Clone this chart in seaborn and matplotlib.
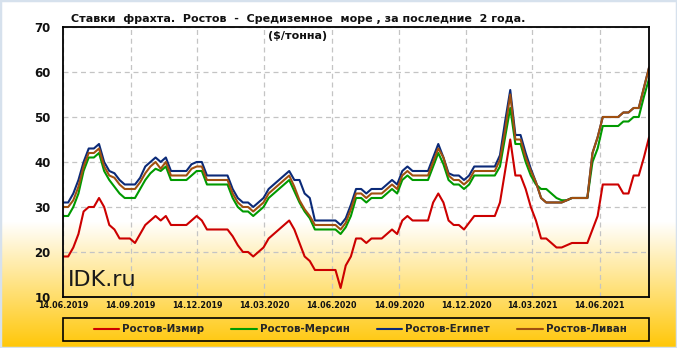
import matplotlib
matplotlib.use('Agg')
import matplotlib.pyplot as plt
import matplotlib.dates as mdates
from matplotlib.patches import Rectangle
import numpy as np
import pandas as pd
import seaborn as sns

# weekly points, 14.06.2019 .. 27.08.2021
dates = pd.date_range('2019-06-14', periods=115, freq='7D')

izmir = [19, 19, 21, 24, 29, 30, 30, 32, 30, 26,
         25, 23, 23, 23, 22, 24, 26, 27, 28, 27,
         28, 26, 26, 26, 26, 27, 28, 27, 25, 25,
         25, 25, 25, 23.5, 21.5, 20, 20, 19, 20, 21,
         23, 24, 25, 26, 27, 25, 22, 19, 18, 16,
         16, 16, 16, 16, 12, 17, 19, 23, 23, 22,
         23, 23, 23, 24, 25, 24, 27, 28, 27, 27,
         27, 27, 31, 33, 31, 27, 26, 26, 25, 26.5,
         28, 28, 28, 28, 28, 31, 38, 45, 37, 37,
         34, 30, 27, 23, 23, 22, 21, 21, 21.5, 22,
         22, 22, 22, 25, 28, 35, 35, 35, 35, 33,
         33, 37, 37, 41, 45.5]

mersin = [28, 28, 30, 33, 38, 41, 41, 42, 38, 36,
          34.5, 33, 32, 32, 32, 34, 36, 37.5, 38.5, 38,
          39, 36, 36, 36, 36, 37, 38, 38, 35, 35,
          35, 35, 35, 32, 30, 29, 29, 28, 29, 30,
          32, 33, 34, 35, 36, 33.5, 31, 29, 27.5, 25,
          25, 25, 25, 25, 24, 25.5, 28, 32, 32, 31,
          32, 32, 32, 33, 34, 33, 36, 37, 36, 36,
          36, 36, 39, 42, 39.5, 36, 35, 35, 34, 35,
          37, 37, 37, 37, 37, 39, 45.5, 52, 44, 44,
          40, 37, 35, 34, 34, 33, 32, 31.5, 31.5, 32,
          32, 32, 32, 40, 43, 48, 48, 48, 48, 49,
          49, 50, 50, 54.5, 58.5]

egypt = [31, 31, 33, 36, 40, 43, 43, 44, 40, 38,
         37.5, 36, 35, 35, 35, 36.5, 39, 40, 41, 40,
         41, 38, 38, 38, 38, 39.5, 40, 40, 37, 37,
         37, 37, 37, 34, 32, 31, 31, 30, 31, 32,
         34, 35, 36, 37, 38, 36, 36, 33, 32, 27,
         27, 27, 27, 27, 26, 27.5, 30.5, 34, 34, 33,
         34, 34, 34, 35, 36, 35, 38, 39, 38, 38,
         38, 38, 41, 44, 41, 37.5, 37, 37, 36, 37,
         39, 39, 39, 39, 39, 41.5, 49, 56, 46, 46,
         42, 38.5, 35.5, 32, 31, 31, 31, 31, 31.5, 32,
         32, 32, 32, 42, 45.5, 50, 50, 50, 50, 51,
         51, 52, 52, 56.5, 61]

lebanon = [30, 30, 31.5, 34.5, 39, 42, 42, 43, 39, 37,
           36.5, 35, 34, 34, 34, 35.5, 37.5, 39, 40, 38.5,
           40, 37, 37, 37, 37, 38.5, 39, 39, 36, 36,
           36, 36, 36, 33, 31, 30, 30, 29, 30, 31,
           33, 34, 35, 36, 37, 34.5, 31.5, 29.5, 28, 26,
           26, 26, 26, 26, 25, 26.5, 29.5, 33, 33, 32,
           33, 33, 33, 34, 35, 34, 37, 38, 37, 37,
           37, 37, 40, 43, 41, 37, 36, 36, 35, 36,
           38, 38, 38, 38, 38, 40.5, 47, 55, 45, 45,
           41, 38, 35.5, 32, 31, 31, 31, 31, 31.5, 32,
           32, 32, 32, 42, 45.5, 50, 50, 50, 50, 51,
           51, 52, 52, 56.5, 61]

routes = ['Ростов-Измир', 'Ростов-Мерсин', 'Ростов-Египет', 'Ростов-Ливан']
colors = ['#cc0000', '#009a00', '#0b2a78', '#a0500f']
tick_dates = pd.to_datetime(['2019-06-14', '2019-09-14', '2019-12-14', '2020-03-14', '2020-06-14',
                             '2020-09-14', '2020-12-14', '2021-03-14', '2021-06-14'])
title_1 = 'Ставки  фрахта.  Ростов  -  Средиземное  море , за последние  2 года.'
title_2 = '($/тонна)'

df = pd.DataFrame({
    'date': np.tile(dates, 4),
    'route': np.repeat(routes, len(dates)),
    'rate': izmir + mersin + egypt + lebanon,
})

sns.set_style('white')
plt.rcParams['font.family'] = ['DejaVu Sans']

fig = plt.figure(figsize=(6.77, 3.48), dpi=100)

# background: white on top, yellow-orange gradient at the bottom
bg = fig.add_axes([0, 0, 1, 1], zorder=-10)
rows = np.linspace(0, 348, 348)
t = np.clip((rows - 222) / (348 - 222), 0, 1)
top = np.array([1.0, 1.0, 1.0])
bottom = np.array([1.0, 0.78, 0.03])
grad = (top[None, :] * (1 - t[:, None]) + bottom[None, :] * t[:, None])[:, None, :]
bg.imshow(grad, aspect='auto', extent=[0, 1, 0, 1])
bg.axis('off')

ax = fig.add_axes([0.0931, 0.1466, 0.8656, 0.7758])
ax.set_facecolor('none')

sns.lineplot(data=df, x='date', y='rate', hue='route', hue_order=routes,
             palette=colors, linewidth=1.5, ax=ax)

ax.set_xlim(dates[0], dates[-1])
ax.set_ylim(10, 70)
ax.set_yticks(range(10, 71, 10))
ax.set_xticks(tick_dates)
ax.xaxis.set_major_formatter(mdates.DateFormatter('%d.%m.%Y'))
ax.set_xlabel('')
ax.set_ylabel('')
ax.grid(True, color='#c4c4c4', linestyle=(0, (4, 3)), linewidth=0.9)
ax.set_axisbelow(True)
for s in ax.spines.values():
    s.set_color('black')
    s.set_linewidth(1.3)
ax.tick_params(axis='y', length=0, pad=9, labelsize=8.5)
ax.tick_params(axis='x', length=0, pad=3, labelsize=5.8)
for lbl in ax.get_xticklabels() + ax.get_yticklabels():
    lbl.set_fontweight('bold')
    lbl.set_color('#111111')

ax.text(0.008, 0.025, 'IDK.ru', transform=ax.transAxes, fontsize=16, color='#1a1a1a',
        ha='left', va='bottom')

fig.text(0.44, 1 - 19.5 / 348, title_1, ha='center', va='center', fontsize=8,
         fontweight='bold', color='#111111')
fig.text(0.44, 1 - 36 / 348, title_2, ha='center', va='center', fontsize=8,
         fontweight='bold', color='#111111')

handles, labels = ax.get_legend_handles_labels()
ax.get_legend().remove()
leg = fig.legend(handles, labels, ncol=4, loc='center',
                 bbox_to_anchor=(0.532, 1 - 329.5 / 348), bbox_transform=fig.transFigure,
                 frameon=False, handlelength=2.5, handletextpad=0.3, columnspacing=2.6,
                 prop={'weight': 'bold', 'size': 7.4})
fig.patches.append(Rectangle((0.0931, 1 - 341 / 348), 0.8656, 23 / 348,
                             transform=fig.transFigure, fill=False,
                             edgecolor='black', linewidth=1.2))

fig.patches.append(Rectangle((0, 0), 1, 1, transform=fig.transFigure, fill=False,
                             edgecolor='#d6e1ed', linewidth=2.5))

fig.savefig('out.png', dpi=100)
